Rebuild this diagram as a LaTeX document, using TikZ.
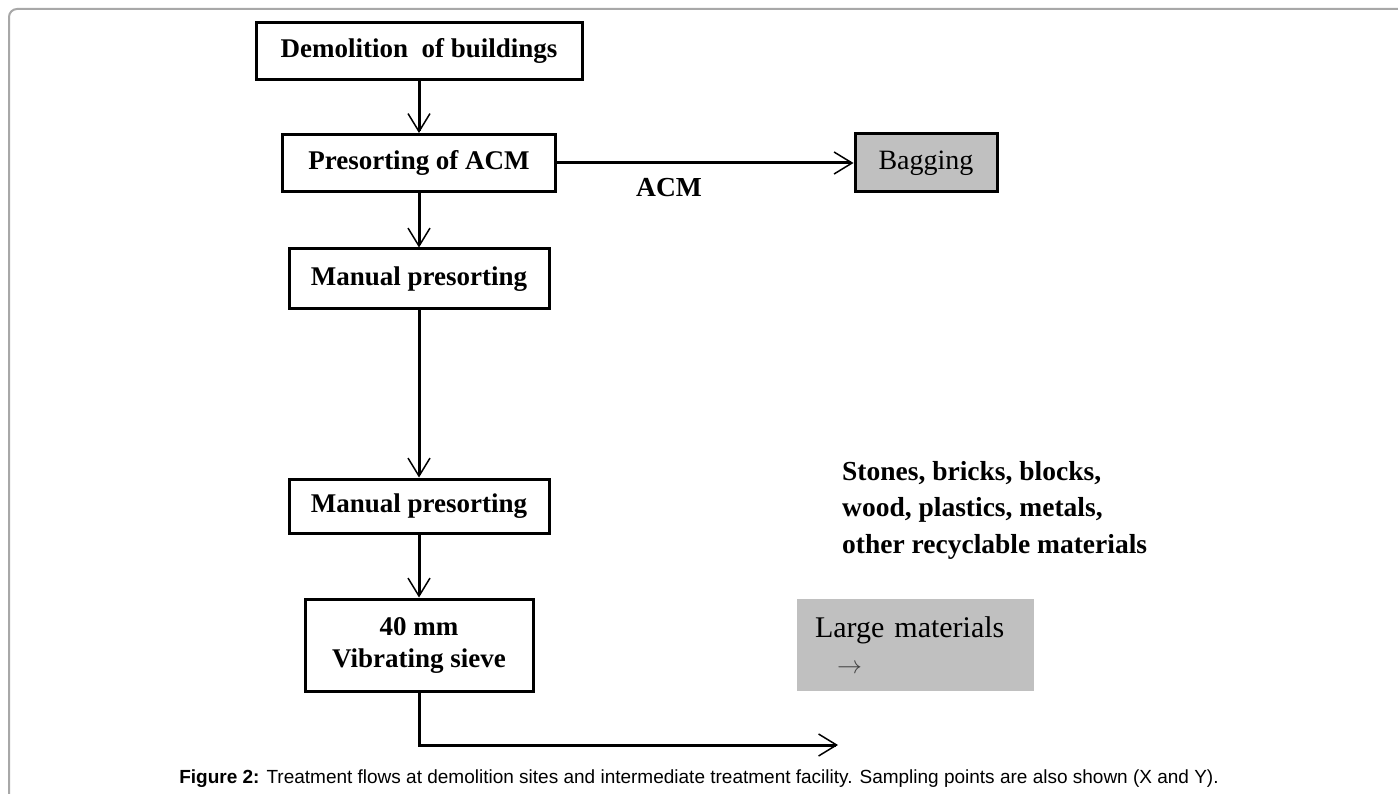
\documentclass[tikz,border=0pt]{standalone}
\usepackage{fontspec}
\setmainfont{Liberation Serif}
\newfontfamily\capfont{Liberation Sans}
\usetikzlibrary{arrows.meta,positioning}
\definecolor{boxgray}{HTML}{C0C0C0}
\definecolor{framegray}{HTML}{A8A8A8}
\tikzset
{
    process/.style = {rectangle, draw=black, line width=3pt, align=center, inner sep=0pt, minimum height=57pt, font=\fontsize{27}{32}\selectfont\bfseries},
    store/.style   = {process, fill=boxgray, font=\fontsize{28}{32}\selectfont},
    pile/.style    = {rectangle, fill=boxgray, align=left, inner xsep=18pt, inner ysep=0pt, minimum height=92pt, text width=201pt, font=\fontsize{30}{35.5}\selectfont},
    tag/.style     = {inner sep=0pt, font=\fontsize{27.5}{36.5}\selectfont\bfseries},
    flow/.style    = {line width=3pt, -{Straight Barb[length=18pt 0 1, width=22pt 0 1, line width=1.5pt 0 1]}}
}

\begin{document}
\begin{tikzpicture}[x=1pt, y=-1pt]
    \newcommand\STEPDY{112}
    \useasboundingbox (0, 0) rectangle (1398, 794);
    \draw[framegray, line width=2pt, rounded corners=8pt] (9, 794) -- (9, 9) -- (1398, 9);

    \node (demol)   [process, minimum width=326pt]          at (419, 51)                         {Demolition\ \ of buildings};
    \node (presort) [process, minimum width=273pt]          at ([shift=({0, \STEPDY})]demol)     {Presorting of ACM};
    \node (manual)  [process, minimum width=260pt, minimum height=60pt] at ([shift=({0, 116})]presort) {Manual presorting};
    \node (manual2) [process, minimum width=260pt, minimum height=54pt] at ([shift=({0, 227})]manual)  {Manual presorting};
    \node (sieve)   [process, minimum width=228pt, minimum height=92pt] at ([shift=({0, 139})]manual2) {40 mm\\Vibrating sieve};

    \node (bag)     [store, minimum width=142pt, minimum height=58pt]   at (926, 163)            {Bagging};
    \node (large)   [pile]                                  at (915.5, 645)                      {Large materials\\\hspace*{22pt}{\color{black!75}$\rightarrow$}};

    \node (acm)     [tag]                                   at (669, 188)                        {ACM};
    \node (stones)  [tag, align=left, anchor=west]          at (842, 510)                        {Stones, bricks, blocks,\\wood, plastics, metals,\\other recyclable materials};

    \coordinate (out) at (838, 745);

    \node (caption) [inner sep=0pt, font=\capfont\fontsize{19}{22}\selectfont] at (699, 779)
        {\textbf{Figure 2:} Treatment flows at demolition sites and intermediate treatment facility. Sampling points are also shown (X and Y).};

    \path
        (demol)   edge[flow]  node {} (presort)
        (presort) edge[flow]  node {} (manual)
        (manual)  edge[flow]  node {} (manual2)
        (manual2) edge[flow]  node {} (sieve)
        (presort) edge[flow]  node {} (bag);
    \draw[flow] (sieve) |- (out);
\end{tikzpicture}
\end{document}
